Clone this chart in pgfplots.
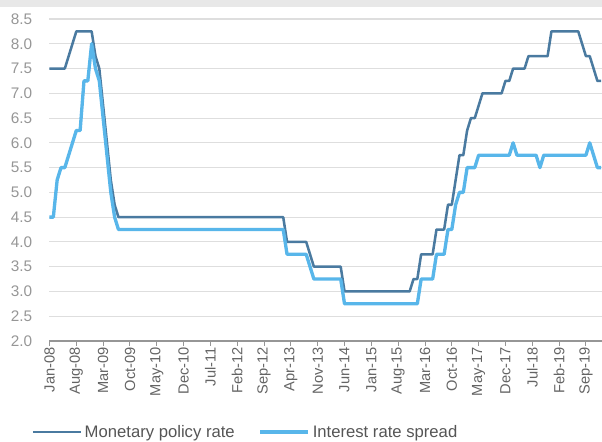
\documentclass[border=0pt]{standalone}
\usepackage{pgfplots}
\pgfplotsset{compat=1.18}
\usepackage{fontspec}
\setmainfont{Liberation Sans}
\definecolor{policy}{RGB}{74,122,160}
\definecolor{spread}{RGB}{88,182,234}
\definecolor{gridc}{RGB}{222,222,222}
\definecolor{band}{RGB}{232,232,232}
\definecolor{ylab}{RGB}{150,150,150}
\definecolor{xlab}{RGB}{100,100,100}
\definecolor{legtext}{RGB}{85,85,85}
\definecolor{axc}{RGB}{150,150,150}
\pgfplotstableread{
m P S
0 7.5 4.5
1 7.5 4.5
2 7.5 5.25
3 7.5 5.5
4 7.5 5.5
5 7.75 5.75
6 8.0 6.0
7 8.25 6.25
8 8.25 6.25
9 8.25 7.25
10 8.25 7.25
11 8.25 8.0
12 7.75 7.5
13 7.5 7.25
14 6.75 6.5
15 6.0 5.75
16 5.25 5.0
17 4.75 4.5
18 4.5 4.25
61 4.5 4.25
62 4.0 3.75
67 4.0 3.75
68 3.75 3.5
69 3.5 3.25
76 3.5 3.25
77 3.0 2.75
94 3.0 2.75
95 3.25 2.75
96 3.25 2.75
97 3.75 3.25
100 3.75 3.25
101 4.25 3.75
103 4.25 3.75
104 4.75 4.25
105 4.75 4.25
106 5.25 4.75
107 5.75 5.0
108 5.75 5.0
109 6.25 5.5
110 6.5 5.5
111 6.5 5.5
112 6.75 5.75
113 7.0 5.75
118 7.0 5.75
119 7.25 5.75
120 7.25 5.75
121 7.5 6.0
122 7.5 5.75
124 7.5 5.75
125 7.75 5.75
127 7.75 5.75
128 7.75 5.5
129 7.75 5.75
130 7.75 5.75
131 8.25 5.75
138 8.25 5.75
139 8.0 5.75
140 7.75 5.75
141 7.75 6.0
142 7.5 5.75
143 7.25 5.5
144 7.25 5.5
}\ratedata
\begin{document}
\begin{tikzpicture}
\begin{axis}[
  name=ax,
  scale only axis, width=414.4pt, height=241.5pt,
  xmin=0, xmax=144.2, ymin=2, ymax=8.5,
  axis x line*=bottom, axis y line*=left,
  y axis line style={draw=none},
  x axis line style={axc, line width=0.8pt},
  ytick={2,2.5,...,8.5},
  ytick style={draw=none},
  ymajorgrids, grid style={gridc, line width=0.8pt},
  xtick={0,7,...,140},
  xticklabels={Jan-08,Aug-08,Mar-09,Oct-09,May-10,Dec-10,Jul-11,Feb-12,Sep-12,Apr-13,Nov-13,Jun-14,Jan-15,Aug-15,Mar-16,Oct-16,May-17,Dec-17,Jul-18,Feb-19,Sep-19},
  xtick style={axc, line width=0.7pt},
  tick align=outside, major tick length=3.5pt,
  x tick label style={rotate=90, anchor=east, font=\fontsize{11}{13}\selectfont, text=xlab, inner sep=1pt},
  y tick label style={font=\fontsize{11.5}{13}\selectfont, text=ylab, xshift=-6pt},
  /pgf/number format/assume math mode=true,
  yticklabel={\pgfmathprintnumber[fixed, fixed zerofill, precision=1]{\tick}},
  legend style={at={(-0.033,-0.283)}, anchor=west, draw=none, fill=none,
    font=\fontsize{12.5}{14}\selectfont, text=legtext, inner sep=0pt,
    /tikz/every even column/.append style={column sep=16pt}},
  legend columns=2,
  legend image code/.code={\draw[#1] (0pt,0pt) -- (36pt,0pt);},
]
\addplot[policy, line width=1.9pt, line join=round] table[x=m, y=P] {\ratedata};
\addlegendentry{Monetary policy rate}
\addplot[spread, line width=2.5pt, line join=round] table[x=m, y=S] {\ratedata};
\addlegendentry{Interest rate spread}
\end{axis}
\fill[band] ([xshift=-37.125pt, yshift=14.25pt]ax.north west) rectangle ([yshift=9pt]ax.north east);
\pgfresetboundingbox
\path[use as bounding box] ([xshift=-37.125pt, yshift=14.25pt]ax.north west) rectangle ([yshift=-75.75pt]ax.south east);
\end{tikzpicture}
\end{document}
